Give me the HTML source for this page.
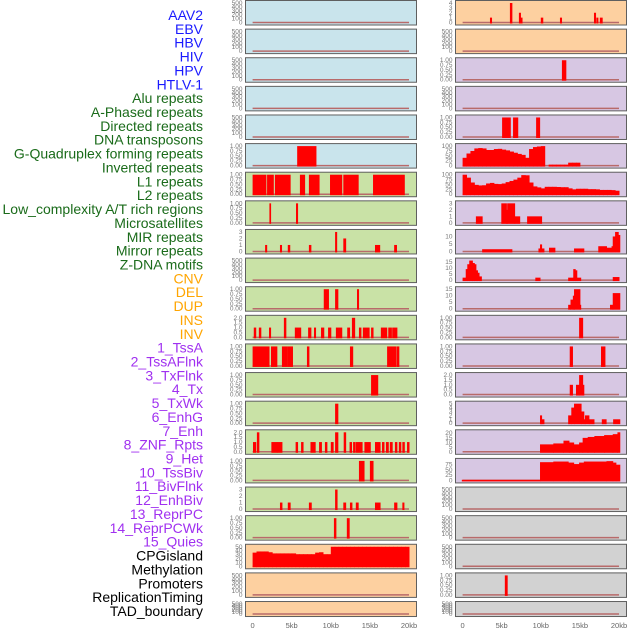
<!DOCTYPE html>
<html><head><meta charset="utf-8"><style>
body{margin:0;background:#fff;}
svg{display:block;font-family:"Liberation Sans",sans-serif;}
</style></head><body>
<svg id="chart" width="630" height="630" viewBox="0 0 630 630" xmlns="http://www.w3.org/2000/svg"></svg>
<script>
// ---- data ----
const trackNames = ["AAV2","EBV","HBV","HIV","HPV","HTLV-1","Alu repeats","A-Phased repeats","Directed repeats","DNA transposons","G-Quadruplex forming repeats","Inverted repeats","L1 repeats","L2 repeats","Low_complexity A/T rich regions","Microsatellites","MIR repeats","Mirror repeats","Z-DNA motifs","CNV","DEL","DUP","INS","INV","1_TssA","2_TssAFlnk","3_TxFlnk","4_Tx","5_TxWk","6_EnhG","7_Enh","8_ZNF_Rpts","9_Het","10_TssBiv","11_BivFlnk","12_EnhBiv","13_ReprPC","14_ReprPCWk","15_Quies","CPGisland","Methylation","Promoters","ReplicationTiming","TAD_boundary"];
const xTickValues = [0,5,10,15,20];
const xTickLabels = ["0","5kb","10kb","15kb","20kb"];
const ticksEmpty = [0,100,200,300,400,500];
const ticksUnit = [0,0.25,0.5,0.75,1];
const ticksTwo = [0,0.5,1,1.5,2];
const ticksThree = [0,1,2,3];
const ticksFour = [0,1,2,3,4];
const ticksFive = [0,1,2,3,4,5];
const ticksHundred = [0,25,50,75,100];
const ticksFifty = [0,10,20,30,40,50];
const ticksTen = [0,5,10];
const ticksFifteen = [0,5,10,15];
const ticksTwenty = [0,5,10,15,20];
const ticksQuies = [0,25,50,75];

const htlvBars = [[5.7,8.1,1]];
const aluBars = [[0,1.7,1],[1.85,2.65,1],[2.85,4.8,1],[6.05,6.65,1],[7.2,8.5,1],[9.9,11.4,1],[11.6,13.5,1],[15.4,19.4,1]];
const aPhasedBars = [[2.15,2.3,1],[5.55,5.75,1]];
const directedBars = [[1.6,1.8,1],[3.5,3.7,1],[4.5,4.75,1],[7.2,7.45,1],[10.55,10.75,3],[11.6,11.9,2],[15.65,16.25,1],[18.1,18.4,1]];
const gquadBars = [[9.1,9.7,1],[10.55,10.9,1],[13.35,13.55,1]];
const invertedBars = [[0.15,0.4,1],[0.8,1.05,1],[2.1,2.3,1],[4.0,4.25,2],[5.4,6.15,1],[7.1,7.45,1],[7.85,8.05,1],[8.75,9.1,1],[9.65,10.0,1],[10.65,11.4,1],[12.1,12.4,1],[12.7,13.05,2],[13.6,13.85,1],[14.1,14.9,1],[15.15,15.4,1],[16.4,17.15,1],[17.35,17.75,1],[17.85,18.45,1]];
const l1Bars = [[0,2.1,1],[2.35,3.1,1],[3.75,4.45,1],[4.5,5.1,1],[6.95,7.2,1],[12.45,12.8,1],[17.2,18.35,1],[18.45,18.7,1]];
const l2Bars = [[15.15,16.0,1]];
const lowComplexBars = [[10.55,10.9,1]];
const microBars = [[0.05,0.4,1],[0.55,0.8,2],[2.4,3.1,1],[3.1,3.75,1],[5.5,5.75,1],[6.2,6.45,1],[7.4,8.0,1],[8.5,8.8,1],[9.25,9.5,1],[10.0,10.3,1],[10.55,10.9,2],[11.65,11.9,2],[12.4,12.65,1],[12.85,13.1,1],[13.2,14.0,1],[14.3,15.05,1],[15.65,16.3,1],[16.55,16.8,1],[17.05,17.35,1],[17.55,17.85,1],[18.2,18.45,1],[18.7,18.95,1],[19.15,19.4,1],[19.75,20.0,1]];
const mirBars = [[13.6,14.25,1],[15.0,15.4,1]];
const mirrorBars = [[3.5,3.75,1],[4.5,4.8,1],[7.2,7.5,1],[10.55,10.8,3],[11.6,11.9,1],[12.45,12.7,1],[13.2,13.5,1],[15.65,16.3,1],[18.1,18.45,1],[19.15,19.35,1]];
const zdnaBars = [[10.4,10.65,1],[12.05,12.35,1]];
const cnvBins = [35,38,38,38,36,33,33,33,33,33,33,31,31,31,31,31,35,36,31,31,50,50,50,50,50,50,50,50,50,50,50,50,50,50,50,50,50,50,50,50];
const insBars = [[3.5,3.7,1],[6.05,6.3,4],[7.2,7.4,2],[7.4,7.6,1],[10.0,10.25,1],[12.45,12.65,1],[16.8,17.0,2],[17.1,17.3,1],[17.55,17.85,1]];
const tssABars = [[12.7,13.2,1]];
const txFlnkBars = [[5.05,6.1,1],[6.45,7.05,1],[9.4,9.85,1]];
const txBins = [40,62,75,88,90,88,80,80,85,86,82,78,72,66,60,55,40,85,95,98,100,0,5,5,5,5,5,15,15,15,0,0,0,0,0,0,0,0,0,0];
const txWkBins = [100,85,60,48,45,46,55,58,53,52,55,62,68,75,85,98,97,60,40,35,30,38,38,38,37,36,36,30,25,28,28,28,26,26,25,22,22,22,21,18];
const enhGBars = [[1.7,2.5,1],[4.95,5.6,3],[5.6,5.7,2],[5.7,6.65,3],[6.65,7.3,1],[8.25,10.1,1]];
const enhBars = [[2.5,6.3,1.5],[9.7,9.9,2],[9.9,10.1,4.7],[10.1,10.4,2],[11.05,11.8,2.5],[14.25,15.5,2],[17.35,18.4,3.5],[18.4,19.05,2.5],[19.05,19.2,3.5],[19.2,19.5,10],[19.5,19.9,13],[19.9,20.1,11]];
const znfBars = [[0,0.4,2],[0.4,0.6,9],[0.6,0.85,13],[0.85,1.25,16],[1.25,1.5,14],[1.5,1.7,13],[1.7,1.9,8],[1.9,2.1,6],[2.1,2.4,3],[9.3,9.9,2],[13.5,14.15,2],[14.15,14.4,9],[14.4,14.6,8],[14.6,15.1,2],[19.2,20.0,2.5]];
const hetBars = [[13.5,13.8,3],[13.8,14.1,7],[14.1,14.25,10],[14.25,15.0,15],[15.0,15.1,3],[18.85,19.2,3],[19.2,20.1,12]];
const tssBivBars = [[14.9,15.35,1]];
const bivFlnkBars = [[13.7,14.05,1],[17.7,18.2,1]];
const enhBivBars = [[13.7,14.05,1],[14.5,14.9,1],[14.9,15.35,2],[15.35,15.5,1]];
const reprPCBars = [[9.9,10.1,2],[10.1,10.4,1],[13.5,13.9,2],[13.9,14.25,4],[14.25,15.15,5],[15.15,15.5,3],[15.5,15.65,1],[15.65,16.15,2],[16.15,16.8,1],[17.8,18.35,1],[19.25,20.1,1]];
const reprPCWkBars = [[9.9,11.6,8],[11.6,12.9,9],[12.9,13.6,12],[13.6,14.2,10],[14.2,14.9,8],[14.9,15.35,10],[15.35,16.0,15],[16.0,16.85,16],[16.85,18.1,17],[18.1,19.2,18],[19.2,19.8,19],[19.8,20.1,21]];
const quiesBars = [[-0.1,9.9,3],[9.9,11.6,87],[11.6,13.5,90],[13.5,14.2,85],[14.2,14.9,78],[14.9,15.5,85],[15.5,18.4,90],[18.4,19.2,92],[19.2,19.6,85],[19.6,20.1,75]];
const promoterBars = [[5.4,5.7,1]];

// ---- layout / config ----
function binsToBars(b){return b.map((v,i)=>[i*0.5,i*0.5+0.5,v]);}
const BLUE="#c9e4ec",GREEN="#c9e2a6",ORANGE="#fdd0a0",PURPLE="#d7c7e3",GRAY="#d2d2d2";
const leftCol = [
 {bg:BLUE,ticks:ticksEmpty,bars:[],d:0},
 {bg:BLUE,ticks:ticksEmpty,bars:[],d:0},
 {bg:BLUE,ticks:ticksEmpty,bars:[],d:0},
 {bg:BLUE,ticks:ticksEmpty,bars:[],d:0},
 {bg:BLUE,ticks:ticksEmpty,bars:[],d:0},
 {bg:BLUE,ticks:ticksUnit,bars:htlvBars,d:2},
 {bg:GREEN,ticks:ticksUnit,bars:aluBars,d:2},
 {bg:GREEN,ticks:ticksUnit,bars:aPhasedBars,d:2},
 {bg:GREEN,ticks:ticksThree,bars:directedBars,d:0},
 {bg:GREEN,ticks:ticksEmpty,bars:[],d:0},
 {bg:GREEN,ticks:ticksUnit,bars:gquadBars,d:2},
 {bg:GREEN,ticks:ticksTwo,bars:invertedBars,d:1},
 {bg:GREEN,ticks:ticksUnit,bars:l1Bars,d:2},
 {bg:GREEN,ticks:ticksUnit,bars:l2Bars,d:2},
 {bg:GREEN,ticks:ticksUnit,bars:lowComplexBars,d:2},
 {bg:GREEN,ticks:ticksTwo,bars:microBars,d:1},
 {bg:GREEN,ticks:ticksUnit,bars:mirBars,d:2},
 {bg:GREEN,ticks:ticksThree,bars:mirrorBars,d:0},
 {bg:GREEN,ticks:ticksUnit,bars:zdnaBars,d:2},
 {bg:ORANGE,ticks:ticksFifty,bars:binsToBars(cnvBins),d:0},
 {bg:ORANGE,ticks:ticksEmpty,bars:[],d:0},
 {bg:ORANGE,ticks:ticksEmpty,bars:[],d:0}
];
const rightCol = [
 {bg:ORANGE,ticks:ticksFour,bars:insBars,d:0},
 {bg:ORANGE,ticks:ticksEmpty,bars:[],d:0},
 {bg:PURPLE,ticks:ticksUnit,bars:tssABars,d:2},
 {bg:PURPLE,ticks:ticksEmpty,bars:[],d:0},
 {bg:PURPLE,ticks:ticksUnit,bars:txFlnkBars,d:2},
 {bg:PURPLE,ticks:ticksHundred,bars:binsToBars(txBins),d:0},
 {bg:PURPLE,ticks:ticksHundred,bars:binsToBars(txWkBins),d:0},
 {bg:PURPLE,ticks:ticksThree,bars:enhGBars,d:0},
 {bg:PURPLE,ticks:ticksTen,bars:enhBars,d:0,top:13},
 {bg:PURPLE,ticks:ticksFifteen,bars:znfBars,d:0,top:16},
 {bg:PURPLE,ticks:ticksFifteen,bars:hetBars,d:0},
 {bg:PURPLE,ticks:ticksUnit,bars:tssBivBars,d:2},
 {bg:PURPLE,ticks:ticksUnit,bars:bivFlnkBars,d:2},
 {bg:PURPLE,ticks:ticksTwo,bars:enhBivBars,d:1},
 {bg:PURPLE,ticks:ticksFive,bars:reprPCBars,d:0},
 {bg:PURPLE,ticks:ticksTwenty,bars:reprPCWkBars,d:0,top:21},
 {bg:PURPLE,ticks:ticksQuies,bars:quiesBars,d:0,top:93},
 {bg:GRAY,ticks:ticksEmpty,bars:[],d:0},
 {bg:GRAY,ticks:ticksEmpty,bars:[],d:0},
 {bg:GRAY,ticks:ticksEmpty,bars:[],d:0},
 {bg:GRAY,ticks:ticksUnit,bars:promoterBars,d:2},
 {bg:GRAY,ticks:ticksEmpty,bars:[],d:0}
];

const NS="http://www.w3.org/2000/svg";
const svg=document.getElementById('chart');
function mk(tag,attrs,parent){const e=document.createElementNS(NS,tag);for(const k in attrs)e.setAttribute(k,attrs[k]);(parent||svg).appendChild(e);return e;}

const labelColor = i => i<6?"#1a1aff":(i<19?"#1a6b1a":(i<24?"#ffa500":(i<39?"#a030f0":"#000")));
trackNames.forEach((n,i)=>{
  const t=mk('text',{x:203,y:20+i*13.86,'text-anchor':'end','font-size':'14',fill:labelColor(i)});
  
  
  t.textContent=n;
});

function drawColumn(cfg,x0,x1,zeroPx,colName){
  const kb=v=>zeroPx+v*7.82;
  cfg.forEach((p,i)=>{
    const top=i*28.62+0.5, h=(i===21)?15:24.5, bot=top+h;
    const g=mk('g',{});
    
    
    mk('rect',{x:x0,y:top,width:x1-x0,height:h,fill:p.bg},g);
    const tmax=p.top!==undefined?p.top:Math.max(p.ticks[p.ticks.length-1],...p.bars.map(b=>b[2]));
    const yTop=top+2.5, yZero=bot-2.5;
    const y=v=>yZero-(v/tmax)*(yZero-yTop);
    p.ticks.forEach(tv=>{
      const t=mk('text',{x:x0-3,y:y(tv)+2,'text-anchor':'end','font-size':'6.5',fill:'#777'},g);
      
      
      t.textContent=tv.toFixed(p.d);
    });
    const base=mk('line',{x1:kb(0),x2:kb(20),y1:yZero,y2:yZero,stroke:'#b86a6a','stroke-width':1.5},g);
    
    
    p.bars.forEach(b=>{
      if(b[2]<=0)return;
      const r=mk('rect',{x:kb(b[0]),y:y(b[2]),width:Math.max(1.2,kb(b[1])-kb(b[0])+0.5),height:yZero-y(b[2])+1,fill:'#ff0000'},g);
      
      
    });
    mk('rect',{x:x0,y:top,width:x1-x0,height:h,fill:'none',stroke:'#5f5f5f','stroke-width':1},g);
  });
  xTickValues.forEach((v,j)=>{
    const t=mk('text',{x:kb(v),y:628,'text-anchor':'middle','font-size':'7.5',fill:'#666'});
    
    
    t.textContent=xTickLabels[j];
  });
}
drawColumn(leftCol,245.5,416.5,252.6,'left');
drawColumn(rightCol,455.5,626.5,462.6,'right');
</script>
</body></html>
